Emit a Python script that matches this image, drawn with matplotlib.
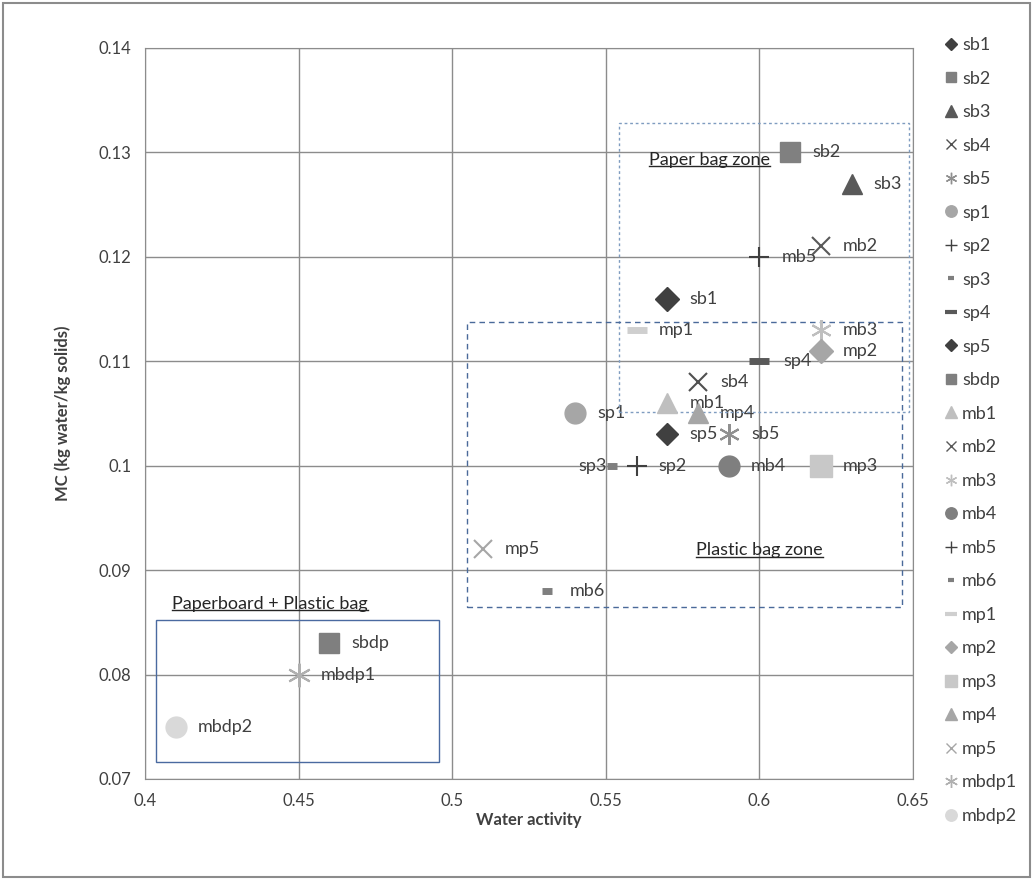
import matplotlib
matplotlib.use("Agg")
import matplotlib.pyplot as plt
from matplotlib.patches import Rectangle
from matplotlib.lines import Line2D

plt.rcParams['font.family'] = ['Lato', 'DejaVu Sans']

# data
names = ["sb1", "sb2", "sb3", "sb4", "sb5", "sp1", "sp2", "sp3", "sp4", "sp5", "sbdp",
         "mb1", "mb2", "mb3", "mb4", "mb5", "mb6", "mp1", "mp2", "mp3", "mp4", "mp5",
         "mbdp1", "mbdp2"]
aw = [0.57, 0.61, 0.63, 0.58, 0.59, 0.54, 0.56, 0.552, 0.60, 0.57, 0.46,
      0.57, 0.62, 0.62, 0.59, 0.60, 0.531, 0.56, 0.62, 0.62, 0.58, 0.51,
      0.45, 0.41]
mc = [0.116, 0.130, 0.127, 0.108, 0.103, 0.105, 0.100, 0.100, 0.110, 0.103, 0.083,
      0.106, 0.121, 0.113, 0.100, 0.120, 0.088, 0.113, 0.111, 0.100, 0.105, 0.092,
      0.080, 0.075]

ast = (6, 2, 0)
styles = {
    "sb1": ("D", "#404040", 12), "sb2": ("s", "#808080", 14), "sb3": ("^", "#595959", 15),
    "sb4": ("x", "#505050", 13), "sb5": (ast, "#909090", 15), "sp1": ("o", "#a6a6a6", 15),
    "sp2": ("+", "#404040", 15), "sp3": ("_", "#7f7f7f", 7), "sp4": ("_", "#595959", 15),
    "sp5": ("D", "#404040", 11), "sbdp": ("s", "#7f7f7f", 14), "mb1": ("^", "#bfbfbf", 15),
    "mb2": ("x", "#595959", 13), "mb3": (ast, "#bfbfbf", 15), "mb4": ("o", "#7f7f7f", 15),
    "mb5": ("+", "#404040", 15), "mb6": ("_", "#7f7f7f", 7), "mp1": ("_", "#cfcfcf", 15),
    "mp2": ("D", "#a6a6a6", 12), "mp3": ("s", "#c8c8c8", 16), "mp4": ("^", "#a6a6a6", 15),
    "mp5": ("x", "#a6a6a6", 13), "mbdp1": (ast, "#b0b0b0", 17), "mbdp2": ("o", "#d9d9d9", 15),
}

fig = plt.figure(figsize=(10.33, 8.8), dpi=100)
ax = fig.add_axes([0.1404, 0.1148, 0.7434, 0.8307])

handles = []
for n, x, y in zip(names, aw, mc):
    m, c, s = styles[n]
    thin = m in ("x", "+", ast)
    mew = 1.5 if thin else (5 if m == "_" else 1)
    ax.plot([x], [y], marker=m, color=c, markersize=s, markeredgewidth=mew,
            linestyle="none", label=n, zorder=4)
    handles.append(Line2D([], [], marker=m, color=c, markersize=s * 0.55,
                          markeredgewidth=1 if thin else (3 if m == "_" else 1),
                          linestyle="none"))
    if n == "sp3":
        ax.annotate(n, (x, y), xytext=(-4, 0), textcoords="offset points",
                    ha="right", va="center", fontsize=13, color="#404040")
    else:
        off = 16 if n != "sp4" else 17
        ax.annotate(n, (x, y), xytext=(off, 0), textcoords="offset points",
                    ha="left", va="center", fontsize=13, color="#404040")

# zone boxes
ax.add_patch(Rectangle((0.5544, 0.1051), 0.0943, 0.0277, fill=False,
                       edgecolor="#7f9cc0", linestyle=(0, (2, 2)), linewidth=1, zorder=3))
ax.add_patch(Rectangle((0.5047, 0.0865), 0.1417, 0.0273, fill=False,
                       edgecolor="#4a6a9a", linestyle=(0, (4, 3)), linewidth=1, zorder=3))
ax.add_patch(Rectangle((0.4036, 0.0716), 0.092, 0.0136, fill=False,
                       edgecolor="#4a6aa0", linewidth=1, zorder=3))

zone_texts = [
    (0.5837, 0.1293, "Paper bag zone"),
    (0.600, 0.0919, "Plastic bag zone"),
    (0.4406, 0.0868, "Paperboard + Plastic bag"),
]
txts = []
for x, y, t in zone_texts:
    txts.append(ax.text(x, y, t, ha="center", va="center", fontsize=13, color="#262626"))

ax.set_xlim(0.4, 0.65)
ax.set_ylim(0.07, 0.14)
ax.set_xticks([0.4, 0.45, 0.5, 0.55, 0.6, 0.65])
ax.set_xticklabels(["0.4", "0.45", "0.5", "0.55", "0.6", "0.65"])
ax.set_yticks([0.07, 0.08, 0.09, 0.1, 0.11, 0.12, 0.13, 0.14])
ax.set_yticklabels(["0.07", "0.08", "0.09", "0.1", "0.11", "0.12", "0.13", "0.14"])
ax.tick_params(length=0, labelsize=12, colors="#404040", pad=10)
ax.grid(True, color="#8c8c8c", linewidth=1)
ax.set_axisbelow(True)
for sp in ax.spines.values():
    sp.set_color("#8c8c8c")
ax.set_xlabel("Water activity", fontsize=12, fontweight="bold", color="#404040", labelpad=2)
ax.set_ylabel("MC (kg water/kg solids)", fontsize=12, fontweight="bold", color="#404040", labelpad=20)

fig.legend(handles, names, loc="upper left", bbox_to_anchor=(0.905, 0.966), frameon=False,
           fontsize=13, labelspacing=0.97, handletextpad=0.1, handlelength=1.0,
           borderaxespad=0, labelcolor="#404040")

fig.patches.append(Rectangle((0.003, 0.003), 0.994, 0.994, transform=fig.transFigure,
                             fill=False, edgecolor="#8c8c8c", linewidth=1.5))

# underline the zone titles
fig.canvas.draw()
r = fig.canvas.get_renderer()
for t in txts:
    bb = t.get_window_extent(r).transformed(fig.transFigure.inverted())
    fig.add_artist(Line2D([bb.x0, bb.x1], [bb.y0 + 0.002, bb.y0 + 0.002],
                          transform=fig.transFigure, color="#262626", linewidth=1))

fig.savefig("out.png", dpi=100)
